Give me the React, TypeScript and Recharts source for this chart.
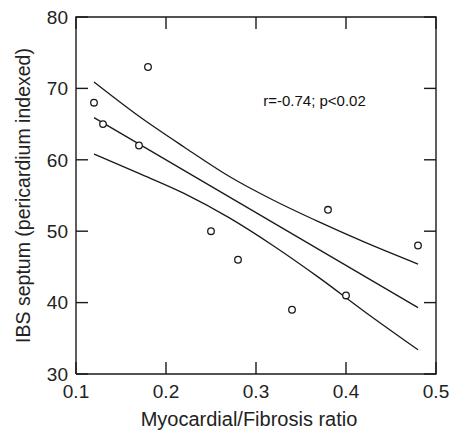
import React from 'react';
import { ComposedChart, XAxis, YAxis, Scatter, Line, ReferenceDot } from 'recharts';

const xTicks = [0.1, 0.2, 0.3, 0.4, 0.5];
const yTicks = [30, 40, 50, 60, 70, 80];
const xMin = 0.1;
const xMax = 0.5;
const yMin = 30;
const yMax = 80;

const ratio = [0.12, 0.13, 0.17, 0.18, 0.25, 0.28, 0.34, 0.38, 0.4, 0.48];
const septum = [68, 65, 62, 73, 50, 46, 39, 53, 41, 48];

const fitX = [0.12, 0.48];
const fitY = [65.9, 39.3];

const bandX = [0.12, 0.17, 0.22, 0.27, 0.32, 0.37, 0.42, 0.48];
const upperY = [70.9, 66.1, 61.8, 57.7, 54.3, 51.3, 48.5, 45.4];
const lowerY = [60.8, 58.1, 55.3, 51.9, 47.9, 43.5, 38.8, 33.4];

const annotation = 'r=-0.74; p<0.02';
const annotationAt = { x: 0.308, y: 67.6 };
const xLabel = 'Myocardial/Fibrosis ratio';
const yLabel = 'IBS septum (pericardium indexed)';

const points = ratio.map((x, i) => ({ x, y: septum[i] }));
const fit = fitX.map((x, i) => ({ x, y: fitY[i] }));
const upper = bandX.map((x, i) => ({ x, y: upperY[i] }));
const lower = bandX.map((x, i) => ({ x, y: lowerY[i] }));

// plot frame (box around the domain)
const frame = [
  { x: xMin, y: yMin },
  { x: xMax, y: yMin },
  { x: xMax, y: yMax },
  { x: xMin, y: yMax },
  { x: xMin, y: yMin },
];
const bottomTicks = xTicks.map((x) => ({ x, y: yMin }));
const topTicks = xTicks.map((x) => ({ x, y: yMax }));
const leftTicks = yTicks.map((y) => ({ x: xMin, y }));
const rightTicks = yTicks.map((y) => ({ x: xMax, y }));

const FONT = '"Liberation Sans", Arial, Helvetica, sans-serif';
const INK = '#1a1a1a';
const TICK_LEN = 12;

const Circle = (props: any) => (
  <circle cx={props.cx} cy={props.cy} r={3.3} fill="#fff" stroke={INK} strokeWidth={1.3} />
);

const tickMark = (dx: number, dy: number) => (props: any) => (
  <path
    d={`M${props.cx},${props.cy}L${props.cx + dx * TICK_LEN},${props.cy + dy * TICK_LEN}`}
    stroke={INK}
    strokeWidth={1.4}
    fill="none"
  />
);
const TickUp = tickMark(0, -1);
const TickDown = tickMark(0, 1);
const TickRight = tickMark(1, 0);
const TickLeft = tickMark(-1, 0);

const renderXLabel = (props: any) => {
  const vb = props.viewBox || {};
  return (
    <text x={vb.x + vb.width / 2 - 7} y={vb.y + 52} textAnchor="middle" fontSize={20} fontFamily={FONT} fill="#222">
      {xLabel}
    </text>
  );
};

const renderYLabel = (props: any) => {
  const vb = props.viewBox || {};
  const x = vb.x + 30;
  const y = vb.y + vb.height / 2;
  return (
    <text x={x} y={y} transform={`rotate(-90 ${x} ${y})`} textAnchor="middle" fontSize={19.5} fontFamily={FONT} fill="#222">
      {yLabel}
    </text>
  );
};

const renderAnnotation = (props: any) => {
  const vb = props.viewBox || {};
  const cx = vb.x + (vb.width || 0) / 2;
  const cy = vb.y + (vb.height || 0) / 2;
  return (
    <text x={cx} y={cy} textAnchor="start" fontSize={15} fontFamily={FONT} fill="#111">
      {annotation}
    </text>
  );
};

export default function App() {
  const tickStyle = { fontSize: 19, fontFamily: FONT, fill: '#222' };
  return (
    <div style={{ position: 'absolute', left: 0, top: 0, width: 450, height: 430, background: '#fff' }}>
      <ComposedChart width={450} height={430} margin={{ top: 17, right: 14, bottom: 0, left: 0 }}>
        <XAxis
          xAxisId="b"
          type="number"
          dataKey="x"
          domain={[xMin, xMax]}
          ticks={xTicks}
          height={56}
          tickSize={-12}
          tickMargin={23}
          tick={tickStyle}
          axisLine={false}
          tickLine={false}
          interval={0}
          label={renderXLabel}
        />
        <YAxis
          yAxisId="l"
          type="number"
          dataKey="y"
          domain={[yMin, yMax]}
          ticks={yTicks}
          width={76}
          tickSize={-12}
          tickMargin={20}
          tick={tickStyle}
          axisLine={false}
          tickLine={false}
          interval={0}
          label={renderYLabel}
        />
        <Line xAxisId="b" yAxisId="l" data={frame} dataKey="y" type="linear" stroke={INK} strokeWidth={1.4} dot={false} activeDot={false} isAnimationActive={false} />
        <Scatter xAxisId="b" yAxisId="l" data={bottomTicks} dataKey="y" shape={TickUp} isAnimationActive={false} />
        <Scatter xAxisId="b" yAxisId="l" data={topTicks} dataKey="y" shape={TickDown} isAnimationActive={false} />
        <Scatter xAxisId="b" yAxisId="l" data={leftTicks} dataKey="y" shape={TickRight} isAnimationActive={false} />
        <Scatter xAxisId="b" yAxisId="l" data={rightTicks} dataKey="y" shape={TickLeft} isAnimationActive={false} />
        <Line xAxisId="b" yAxisId="l" data={upper} dataKey="y" type="monotone" stroke={INK} strokeWidth={1.3} dot={false} activeDot={false} isAnimationActive={false} />
        <Line xAxisId="b" yAxisId="l" data={fit} dataKey="y" type="linear" stroke={INK} strokeWidth={1.3} dot={false} activeDot={false} isAnimationActive={false} />
        <Line xAxisId="b" yAxisId="l" data={lower} dataKey="y" type="monotone" stroke={INK} strokeWidth={1.3} dot={false} activeDot={false} isAnimationActive={false} />
        <Scatter xAxisId="b" yAxisId="l" data={points} dataKey="y" shape={Circle} isAnimationActive={false} />
        <ReferenceDot xAxisId="b" yAxisId="l" x={annotationAt.x} y={annotationAt.y} r={0} stroke="none" fill="none" label={renderAnnotation} />
      </ComposedChart>
    </div>
  );
}
